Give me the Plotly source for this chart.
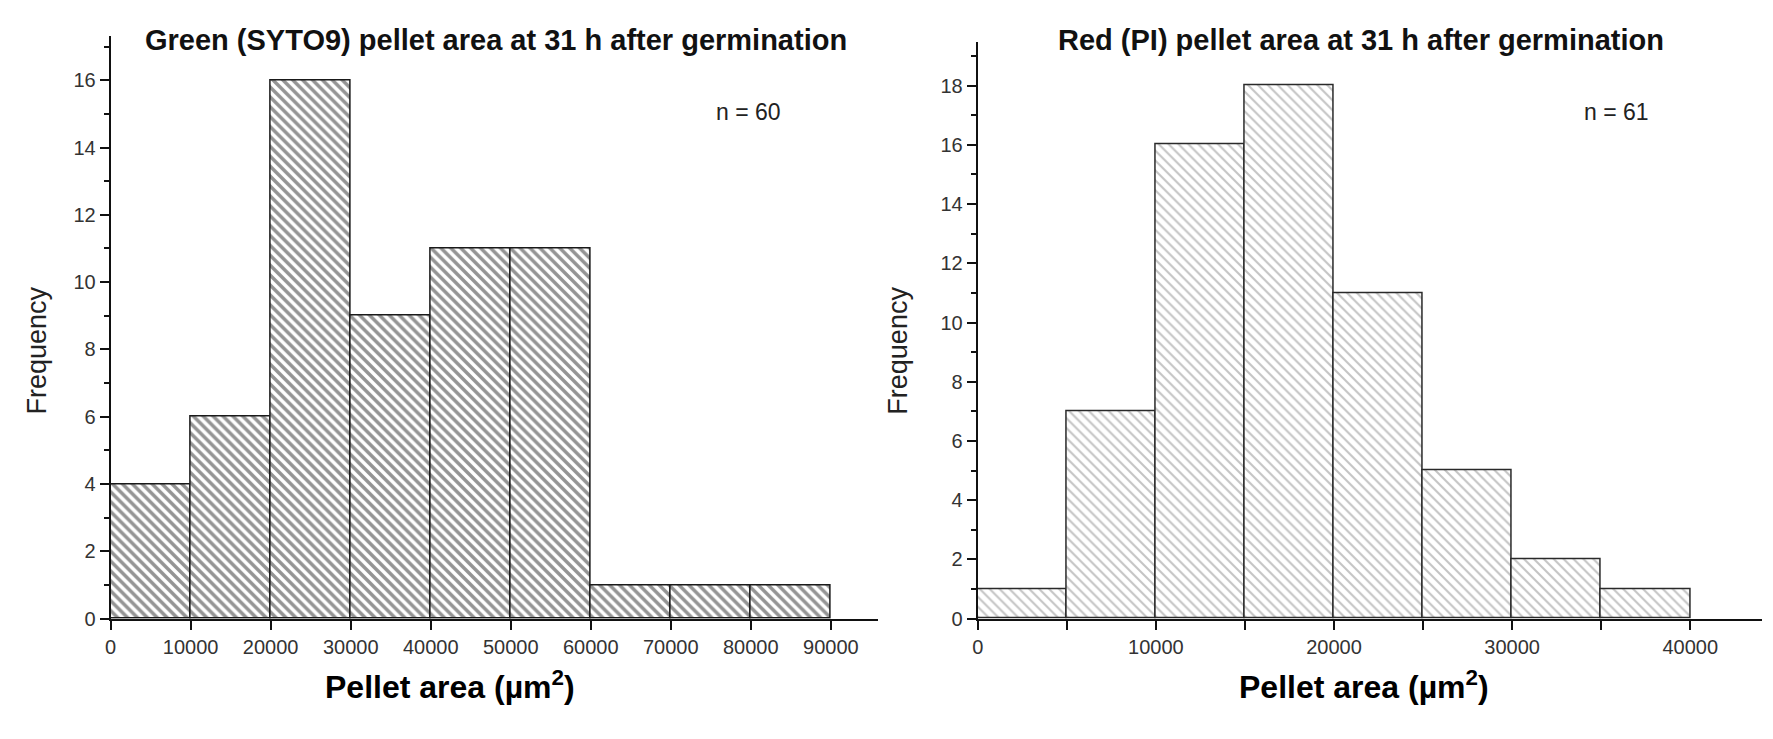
import plotly.graph_objects as go

# Green (SYTO9) histogram: bin left edges, bin width and counts
green_edges = [0, 10000, 20000, 30000, 40000, 50000, 60000, 70000, 80000]
green_width = 10000
green_counts = [4, 6, 16, 9, 11, 11, 1, 1, 1]

# Red (PI) histogram
red_edges = [0, 5000, 10000, 15000, 20000, 25000, 30000, 35000]
red_width = 5000
red_counts = [1, 7, 16, 18, 11, 5, 2, 1]

green_xticks = [0, 10000, 20000, 30000, 40000, 50000, 60000, 70000, 80000, 90000]
green_yticks = [0, 2, 4, 6, 8, 10, 12, 14, 16]
red_xticks = [0, 10000, 20000, 30000, 40000]
red_yticks = [0, 2, 4, 6, 8, 10, 12, 14, 16, 18]

W, H = 1773, 739
FONT = "Liberation Sans, Arial, sans-serif"


def px(x):
    return x / W


def py(y):
    return 1 - y / H


fig = go.Figure()

fig.add_trace(go.Bar(
    x=green_edges, y=green_counts, width=green_width, offset=0,
    marker=dict(color="white",
                line=dict(color="#1a1a1a", width=1.5),
                pattern=dict(shape="\\", fgcolor="#2a2a2a", bgcolor="white",
                             size=7, solidity=0.5)),
    xaxis="x", yaxis="y", showlegend=False,
))

fig.add_trace(go.Bar(
    x=red_edges, y=red_counts, width=red_width, offset=0,
    marker=dict(color="white",
                line=dict(color="#2a2a2a", width=1.5),
                pattern=dict(shape="\\", fgcolor="#8a8a8a", bgcolor="white",
                             size=7, solidity=0.3)),
    xaxis="x2", yaxis="y2", showlegend=False,
))

tickfont = dict(family=FONT, size=20, color="#333333")
axis_common = dict(showline=True, linecolor="#111111", linewidth=2,
                   ticks="outside", tickcolor="#111111", tickwidth=2,
                   showgrid=False, zeroline=False, tickfont=tickfont)

fig.update_layout(
    width=W, height=H,
    margin=dict(l=0, r=0, t=0, b=0),
    paper_bgcolor="white", plot_bgcolor="white",
    bargap=0,
    xaxis=dict(domain=[px(105), px(875)], range=[0, 95900], anchor="y",
               tickvals=green_xticks, ticktext=[str(v) for v in green_xticks],
               ticklen=9, **axis_common),
    yaxis=dict(domain=[py(628), py(37)], range=[0, 17.3], anchor="x",
               tickvals=green_yticks, ticktext=[str(v) for v in green_yticks],
               ticklen=9,
               minor=dict(dtick=1, tick0=0, ticklen=5, tickwidth=2,
                          tickcolor="#111111", ticks="outside"),
               **axis_common),
    xaxis2=dict(domain=[px(975), px(1762)], range=[0, 44030], anchor="y2",
                tickvals=red_xticks, ticktext=[str(v) for v in red_xticks],
                ticklen=9,
                minor=dict(dtick=5000, tick0=0, ticklen=9, tickwidth=2,
                           tickcolor="#111111", ticks="outside"),
                **axis_common),
    yaxis2=dict(domain=[py(628), py(43)], range=[0, 19.46], anchor="x2",
                tickvals=red_yticks, ticktext=[str(v) for v in red_yticks],
                ticklen=9,
                minor=dict(dtick=1, tick0=0, ticklen=5, tickwidth=2,
                           tickcolor="#111111", ticks="outside"),
                **axis_common),
)

annotations = [
    # panel titles
    dict(x=px(492), y=py(41), text="<b>Green (SYTO9) pellet area at 31 h after germination</b>",
         font=dict(family=FONT, size=29, color="#111111")),
    dict(x=px(1360), y=py(41), text="<b>Red (PI) pellet area at 31 h after germination</b>",
         font=dict(family=FONT, size=29, color="#111111")),
    # sample sizes
    dict(x=px(745), y=py(114), text="n = 60",
         font=dict(family=FONT, size=23, color="#222222")),
    dict(x=px(1616), y=py(114), text="n = 61",
         font=dict(family=FONT, size=23, color="#222222")),
    # y axis titles
    dict(x=px(31), y=py(356), text="Frequency", textangle=-90,
         font=dict(family=FONT, size=27, color="#222222")),
    dict(x=px(895), y=py(356), text="Frequency", textangle=-90,
         font=dict(family=FONT, size=27, color="#222222")),
    # x axis titles
    dict(x=px(446), y=py(695), text="<b>Pellet area (µm<sup>2</sup>)</b>",
         font=dict(family=FONT, size=32, color="black")),
    dict(x=px(1363), y=py(695), text="<b>Pellet area (µm<sup>2</sup>)</b>",
         font=dict(family=FONT, size=32, color="black")),
]
for a in annotations:
    a.update(xref="paper", yref="paper", showarrow=False,
             xanchor="center", yanchor="middle")
fig.update_layout(annotations=annotations)

fig.write_html("out.html")
